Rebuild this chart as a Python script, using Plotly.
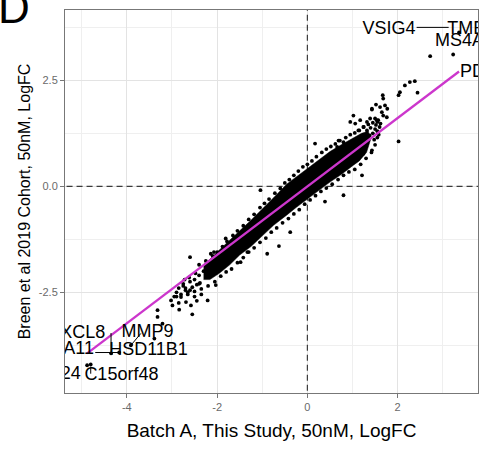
import plotly.graph_objects as go

# ---------------- data ----------------
# outline of the dense central cloud of genes (x: Batch A logFC, y: Breen logFC)
core_x = [-2.3, -2.16, -1.95, -1.72, -1.5, -1.25, -0.98, -0.75, -0.46, -0.25, -0.02, 0.25, 0.5, 0.75,
          1.02, 1.2, 1.35,
          1.4, 1.31, 1.15, 1.02, 0.75, 0.5, 0.25, -0.02, -0.25, -0.46, -0.75, -0.98, -1.25, -1.5,
          -1.72, -1.95, -2.16, -2.3]
core_y = [-1.85, -1.72, -1.5, -1.28, -1.05, -0.8, -0.5, -0.27, 0.05, 0.22, 0.42, 0.62, 0.82, 0.98,
          1.15, 1.25, 1.3,
          1.1, 0.8, 0.6, 0.5, 0.28, 0.1, -0.1, -0.3, -0.5, -0.68, -0.92, -1.15, -1.42, -1.62,
          -1.85, -2.05, -2.2, -2.2]

# individual genes around the edge of the cloud
edge_x = [-2.4, -2.25, -2.1, -2.0, -1.88, -1.78, -1.65, -1.55, -1.42, -1.3, -1.18, -1.05, -0.95, -0.85,
          -0.72, -0.6, -0.5, -0.4, -0.3, -0.2, -0.1, 0.0, 0.1, 0.2, 0.32, 0.42, 0.52, 0.62, 0.72, 0.85,
          0.95, 1.05, 1.15, 1.25, 1.35, 1.45, 1.55,
          -2.8, -2.65, -2.5, -2.35, -2.2, -2.05, -1.92, -1.8, -1.68, -1.55, -1.42, -1.3, -1.18, -1.05,
          -0.92, -0.8, -0.68, -0.55, -0.42, -0.3, -0.18, -0.06, 0.06, 0.18, 0.3, 0.42, 0.55, 0.68, 0.8,
          0.92, 1.05, 1.18, 1.3, 1.42, 1.5, 1.55,
          -2.85, -2.75, -2.7, -2.6, -2.55, -2.5, -2.45, -2.4, -2.38, -2.3, -2.62, -2.72, -2.9, -2.48,
          1.4, 1.45, 1.5, 1.48, 1.55, 1.6, 1.58, 1.38, 1.62, 1.52]
edge_y = [-1.85, -1.76, -1.64, -1.55, -1.42, -1.3, -1.16, -1.05, -0.93, -0.78, -0.66, -0.5, -0.4, -0.3,
          -0.16, -0.05, 0.08, 0.16, 0.26, 0.36, 0.46, 0.52, 0.6, 0.7, 0.8, 0.88, 0.94, 1.0, 1.08, 1.15,
          1.22, 1.26, 1.32, 1.4, 1.46, 1.5, 1.52,
          -2.55, -2.5, -2.48, -2.42, -2.35, -2.25, -2.12, -2.02, -1.95, -1.8, -1.68, -1.55, -1.45, -1.32,
          -1.22, -1.08, -0.98, -0.86, -0.76, -0.65, -0.55, -0.42, -0.32, -0.22, -0.12, -0.04, 0.05, 0.16, 0.26,
          0.34, 0.4, 0.52, 0.66, 0.8, 0.98, 1.15,
          -2.4, -2.3, -2.45, -2.25, -2.38, -2.2, -2.32, -2.1, -2.28, -2.0, -2.15, -2.2, -2.6, -2.05,
          1.38, 1.25, 1.35, 1.1, 1.3, 1.4, 1.22, 1.2, 1.48, 1.45]

# scattered outliers around the cloud
out_x = [-0.63, -0.38, -0.89, 0.39, 0.80, 1.21, 1.43, -1.04, 0.17, -2.60, -2.07, 1.02, 1.43, 1.54]
out_y = [-1.41, -1.08, -1.59, -0.36, -0.21, 0.26, 0.85, -0.09, 1.01, -1.67, -1.55, 1.67, 1.83, 1.56]

# upper-right tail (up-regulated genes)
up_x = [2.38, 2.27, 2.16, 2.05, 2.02, 2.44, 1.67, 1.68, 1.52, 1.61, 1.72, 1.77, 1.43, 1.65, 1.68, 1.76,
        0.95, 1.06, 1.17, 1.32, 1.39, 1.50, 1.57, 1.13, 1.24, 1.32, 1.35, 2.02, 1.17, 1.21, 1.24,
        0.80, 0.69, 0.66, 2.72, 3.23, 3.36]
up_y = [2.48, 2.46, 2.38, 2.22, 2.15, 2.21, 2.15, 2.07, 1.93, 1.87, 1.91, 1.83, 1.81, 1.75, 1.67, 1.63,
        1.52, 1.48, 1.56, 1.52, 1.60, 1.60, 1.56, 1.32, 1.40, 1.32, 1.20, 1.06, 1.04, 0.93, 0.77,
        1.04, 1.08, 0.93, 3.07, 3.11, 3.63]

# lower-left tail (down-regulated genes)
down_x = [-2.14, -1.81, -1.77, -1.48, -1.33, -2.03, -2.21, -3.02, -2.99, -2.84, -2.58, -2.55, -2.69,
          -2.80, -3.32, -3.32, -3.39, -2.90, -2.70, -2.65, -2.75, -2.50, -2.45, -2.35, -2.85, -3.21,
          -2.95, -2.60, -2.40, -3.91, -4.35, -4.17, -4.88, -4.80]
down_y = [-1.59, -1.23, -1.39, -1.79, -1.55, -2.33, -2.69, -2.69, -2.81, -2.91, -2.81, -3.02, -2.73,
          -2.61, -2.92, -3.08, -3.59, -2.50, -2.40, -2.55, -2.35, -2.60, -2.70, -2.55, -2.75, -3.24,
          -2.60, -2.45, -2.30, -3.75, -3.94, -3.92, -4.22, -4.20]

# linear fit
fit_x = [-4.88, 3.36]
fit_y = [-3.94, 2.71]

# reference lines at zero
zero_x = [-6, 5]
zero_y = [-6, 5]

# gene labels (centre / left-anchored / right-anchored)
lab_c_text = ["VSIG4", "MMP9", "HSD11B1", "C15orf48"]
lab_c_x = [1.81, -3.54, -3.52, -4.12]
lab_c_y = [3.69, -3.44, -3.87, -4.46]
lab_r_text = ["TMEM176B", "MS4A4A", "PDK4"]
lab_r_x = [3.10, 2.83, 3.38]
lab_r_y = [3.69, 3.41, 2.69]
lab_l_text = ["CXCL8", "SLC7A11", "CCL24"]
lab_l_x = [-4.48, -4.73, -5.02]
lab_l_y = [-3.46, -3.86, -4.45]

# label connector segments (None separates segments)
seg_x = [2.42, 3.13, None, -3.69, -3.91, None, -4.35, -4.35, None, -4.70, -4.17, None, -4.80, -4.80]
seg_y = [3.75, 3.75, None, -3.47, -3.75, None, -3.46, -3.94, None, -3.92, -3.92, None, -4.25, -4.42]

x_ticks = [-4, -2, 0, 2]
x_tick_labels = ["-4", "-2", "0", "2"]
y_ticks = [-2.5, 0, 2.5]
y_tick_labels = ["-2.5", "0.0", "2.5"]

x_title = "Batch A, This Study, 50nM, LogFC"
y_title = "Breen et al 2019 Cohort, 50nM, LogFC"
panel_letter = "D"

# ---------------- figure ----------------
FONT = "Liberation Sans, Arial, Helvetica, sans-serif"
fig = go.Figure()

dash_line = dict(color="#3a3a3a", width=1.2, dash="6px,4px")
fig.add_trace(go.Scatter(x=[0, 0], y=zero_y, mode="lines", line=dash_line,
                         hoverinfo="skip", showlegend=False, cliponaxis=True))
fig.add_trace(go.Scatter(x=zero_x, y=[0, 0], mode="lines", line=dash_line,
                         hoverinfo="skip", showlegend=False, cliponaxis=True))

fig.add_trace(go.Scatter(x=core_x, y=core_y, mode="lines", fill="toself",
                         fillcolor="black", line=dict(color="black", width=0.5),
                         hoverinfo="skip", showlegend=False))
pt_style = dict(mode="markers", marker=dict(color="black", size=3.8, line=dict(width=0)),
                showlegend=False, cliponaxis=True)
for xs, ys in [(edge_x, edge_y), (out_x, out_y), (up_x, up_y), (down_x, down_y)]:
    fig.add_trace(go.Scatter(x=xs, y=ys, **pt_style))

fig.add_trace(go.Scatter(x=fit_x, y=fit_y, mode="lines",
                         line=dict(color="#CC36CC", width=2.3), showlegend=False))

fig.add_trace(go.Scatter(x=seg_x, y=seg_y, mode="lines",
                         line=dict(color="black", width=1), showlegend=False))

lab_font = dict(family=FONT, size=18, color="black")
fig.add_trace(go.Scatter(x=lab_c_x, y=lab_c_y, text=lab_c_text, mode="text",
                         textposition="middle center", textfont=lab_font,
                         cliponaxis=True, showlegend=False))
fig.add_trace(go.Scatter(x=lab_r_x, y=lab_r_y, text=lab_r_text, mode="text",
                         textposition="middle right", textfont=lab_font,
                         cliponaxis=True, showlegend=False))
fig.add_trace(go.Scatter(x=lab_l_x, y=lab_l_y, text=lab_l_text, mode="text",
                         textposition="middle left", textfont=lab_font,
                         cliponaxis=True, showlegend=False))

axis_common = dict(
    showgrid=True, gridcolor="#E3E3E3", gridwidth=1,
    zeroline=False, showline=True, linecolor="#777777", linewidth=1, mirror=True,
    ticks="outside", ticklen=4, tickcolor="#777777", tickwidth=1,
    tickfont=dict(family=FONT, size=11, color="#6A6A6A"),
)

fig.update_layout(
    width=482, height=451,
    margin=dict(l=65, r=4, t=10, b=58),
    paper_bgcolor="white", plot_bgcolor="white",
    font=dict(family=FONT),
    xaxis=dict(range=[-5.37, 3.78], tickvals=x_ticks, ticktext=x_tick_labels,
               minor=dict(dtick=1, tick0=-5, showgrid=True, gridcolor="#EFEFEF", gridwidth=1, ticks=""),
               title=dict(text=x_title, font=dict(family=FONT, size=19, color="black"), standoff=11),
               automargin=False, **axis_common),
    yaxis=dict(range=[-4.875, 4.16], tickvals=y_ticks, ticktext=y_tick_labels,
               minor=dict(dtick=1.25, tick0=-3.75, showgrid=True, gridcolor="#EFEFEF", gridwidth=1, ticks=""),
               title=dict(text=y_title, font=dict(family=FONT, size=16, color="black"), standoff=4),
               automargin=False, **axis_common),
    annotations=[dict(text=panel_letter, xref="paper", yref="paper", x=0, y=1,
                      xanchor="left", yanchor="bottom", xshift=-69, yshift=-24,
                      showarrow=False, font=dict(family=FONT, size=44, color="black"))],
)

fig.write_html("out.html")
